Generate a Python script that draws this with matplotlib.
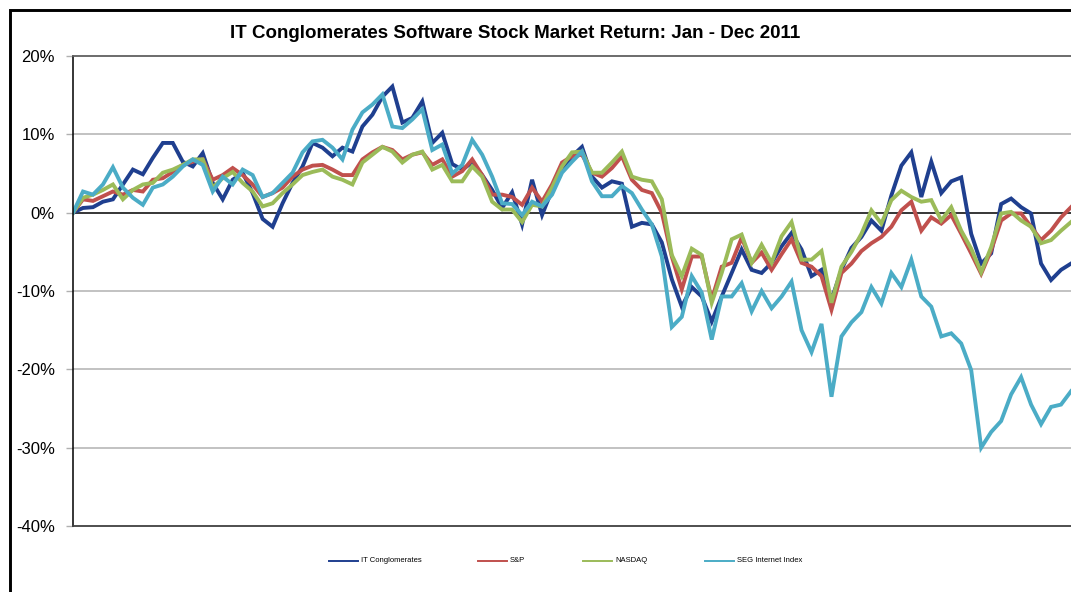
import matplotlib
matplotlib.use("Agg")
import matplotlib.pyplot as plt
from matplotlib.lines import Line2D
from matplotlib.patches import Rectangle
import numpy as np

plt.rcParams["font.family"] = ["Liberation Sans", "DejaVu Sans"]

title = "IT Conglomerates Software Stock Market Return: Jan - Dec 2011"

# cumulative return in %, sampled roughly every trading week-and-a-half
it_conglomerates = [
    0.0, 0.6, 0.7, 1.4, 1.7, 3.6, 5.5, 4.9, 7.0, 8.9,
    8.9, 6.5, 5.9, 7.6, 3.8, 1.7, 4.2, 5.1, 2.5, -0.8,
    -1.8, 1.2, 3.8, 5.9, 8.9, 8.3, 7.2, 8.3, 7.8, 11.0,
    12.5, 14.8, 16.1, 11.5, 12.1, 14.2, 8.9, 10.2, 6.2, 5.5,
    6.4, 4.8, 2.9, 0.6, 2.6, -1.5, 4.2, -0.3, 2.9, 5.5,
    7.2, 8.4, 4.6, 3.2, 4.0, 3.7, -1.8, -1.3, -1.5, -3.8,
    -8.5, -12.0, -9.5, -10.7, -13.9, -10.7, -7.7, -4.7, -7.3, -7.7,
    -6.4, -4.3, -2.6, -4.7, -8.1, -7.3, -11.1, -7.3, -4.5, -3.1,
    -1.0, -2.3, 2.2, 6.0, 7.7, 2.0, 6.5, 2.5, 4.0, 4.5,
    -2.7, -6.5, -5.2, 1.1, 1.8, 0.7, -0.1, -6.5, -8.6, -7.3,
    -6.5,
]
sp500 = [
    0.0, 1.7, 1.5, 2.1, 2.7, 2.3, 2.9, 2.7, 4.2, 4.4,
    5.2, 6.1, 6.5, 6.8, 4.2, 4.8, 5.7, 4.8, 3.6, 2.0,
    2.5, 3.2, 4.6, 5.5, 6.0, 6.1, 5.5, 4.8, 4.8, 6.8,
    7.7, 8.4, 8.0, 6.8, 7.4, 7.7, 6.1, 6.8, 4.6, 5.3,
    6.8, 4.8, 2.3, 2.3, 2.0, 1.0, 3.2, 1.4, 3.6, 6.4,
    7.2, 7.4, 5.1, 4.6, 5.7, 7.2, 4.2, 2.9, 2.5, 0.0,
    -5.6, -9.8, -5.6, -5.6, -11.1, -6.9, -6.4, -3.2, -6.4, -5.1,
    -7.3, -5.3, -3.4, -6.4, -6.9, -8.1, -12.4, -7.7, -6.5, -4.9,
    -3.9, -3.1, -1.8, 0.3, 1.4, -2.3, -0.6, -1.4, -0.3, -2.7,
    -5.2, -7.8, -4.8, -1.0, -0.1, -0.1, -1.8, -3.5, -2.3, -0.6,
    0.7,
]
nasdaq = [
    0.0, 1.9, 2.3, 2.9, 3.6, 1.7, 2.9, 3.6, 3.8, 5.1,
    5.5, 6.1, 6.8, 6.8, 3.2, 4.4, 5.2, 3.8, 2.7, 0.8,
    1.2, 2.5, 3.6, 4.8, 5.2, 5.5, 4.6, 4.2, 3.6, 6.4,
    7.4, 8.4, 7.8, 6.4, 7.4, 7.8, 5.5, 6.1, 4.0, 4.0,
    5.9, 4.6, 1.4, 0.4, 0.4, -1.2, 1.0, 0.8, 3.2, 5.9,
    7.7, 7.8, 5.1, 5.1, 6.4, 7.8, 4.6, 4.2, 4.0, 1.7,
    -5.4, -8.1, -4.6, -5.4, -11.5, -7.7, -3.4, -2.8, -6.4, -4.1,
    -6.4, -3.0, -1.2, -6.0, -6.0, -4.9, -11.5, -6.9, -5.0, -2.7,
    0.3, -1.4, 1.6, 2.8, 2.0, 1.4, 1.6, -1.0, 0.7, -2.3,
    -4.6, -7.6, -4.4, -0.1, 0.1, -1.0, -1.8, -3.9, -3.5, -2.3,
    -1.2,
]
seg_internet = [
    0.0, 2.7, 2.3, 3.6, 5.8, 3.2, 1.9, 1.0, 3.2, 3.6,
    4.6, 5.9, 6.8, 6.1, 2.7, 4.6, 3.6, 5.5, 4.8, 2.0,
    2.5, 3.8, 5.1, 7.7, 9.1, 9.3, 8.3, 6.8, 10.6, 12.8,
    13.8, 15.1, 11.0, 10.8, 11.9, 13.2, 8.0, 8.7, 5.0, 6.1,
    9.3, 7.4, 4.6, 1.2, 1.1, -0.3, 1.4, 0.8, 2.3, 5.1,
    6.5, 7.8, 4.0, 2.1, 2.1, 3.4, 2.5, 0.4, -1.5, -5.6,
    -14.6, -13.3, -8.1, -10.2, -16.2, -10.7, -10.7, -9.0, -12.6, -10.0,
    -12.2, -10.7, -8.8, -15.0, -17.8, -14.2, -23.5, -15.8, -14.0, -12.7,
    -9.5, -11.6, -7.7, -9.5, -6.0, -10.7, -12.0, -15.8, -15.4, -16.7,
    -20.1, -30.0, -28.0, -26.6, -23.2, -21.0, -24.5, -27.0, -24.8, -24.5,
    -22.8,
]

series_names = ["IT Conglomerates", "S&P", "NASDAQ", "SEG Internet Index"]
series_values = [it_conglomerates, sp500, nasdaq, seg_internet]
series_colors = ["#1F3F8F", "#C0504D", "#9BBB59", "#4BACC6"]
y_ticks = [-40, -30, -20, -10, 0, 10, 20]

fig = plt.figure(figsize=(10.71, 5.92), dpi=100)
ax = fig.add_axes([73 / 1071, 66 / 592, 998 / 1071, 470 / 592])

days = np.arange(len(it_conglomerates))
for name, values, color in zip(series_names, series_values, series_colors):
    ax.plot(days, values, color=color, lw=2.8, label=name, solid_joinstyle="miter")

ax.set_xlim(0, len(days) - 1)
ax.set_ylim(-40, 20)
ax.set_yticks(y_ticks)
ax.set_yticklabels([f"{t}%" for t in y_ticks], fontsize=12)
ax.set_xticks([])
ax.tick_params(axis="y", direction="out", length=5, width=1, color="#b0b0b0", pad=8)

for t in y_ticks[1:-1]:
    if t == 0:
        ax.axhline(0, color="black", lw=1.1, zorder=1)
    else:
        ax.axhline(t, color="#b8b8b8", lw=1.2, zorder=0)

ax.spines["right"].set_visible(False)
ax.spines["left"].set_color("black")
ax.spines["left"].set_linewidth(1.1)
ax.spines["top"].set_color("#606060")
ax.spines["top"].set_linewidth(1.3)
ax.spines["bottom"].set_color("#404040")
ax.spines["bottom"].set_linewidth(1.3)

fig.text(515 / 1071, 1 - 33 / 592, title, ha="center", va="center",
         fontsize=13.5, fontweight="bold")

# legend entries laid out like the spreadsheet legend
legend_x = [329, 478, 583, 705]
legend_y = 1 - 561 / 592
for x0, name, color in zip(legend_x, series_names, series_colors):
    fig.add_artist(Line2D([x0 / 1071, (x0 + 29) / 1071], [legend_y, legend_y],
                          color=color, lw=1.4, transform=fig.transFigure))
    fig.text((x0 + 32) / 1071, legend_y, name, ha="left", va="center", fontsize=5.5)

# outer chart frame, cut off on the right and bottom
fig.add_artist(Rectangle((9.5 / 1071, -0.2), 2.0, 1.2 - 9.5 / 592, fill=False,
                         edgecolor="black", lw=2.1, transform=fig.transFigure,
                         clip_on=False))

fig.savefig("out.png", dpi=100)
